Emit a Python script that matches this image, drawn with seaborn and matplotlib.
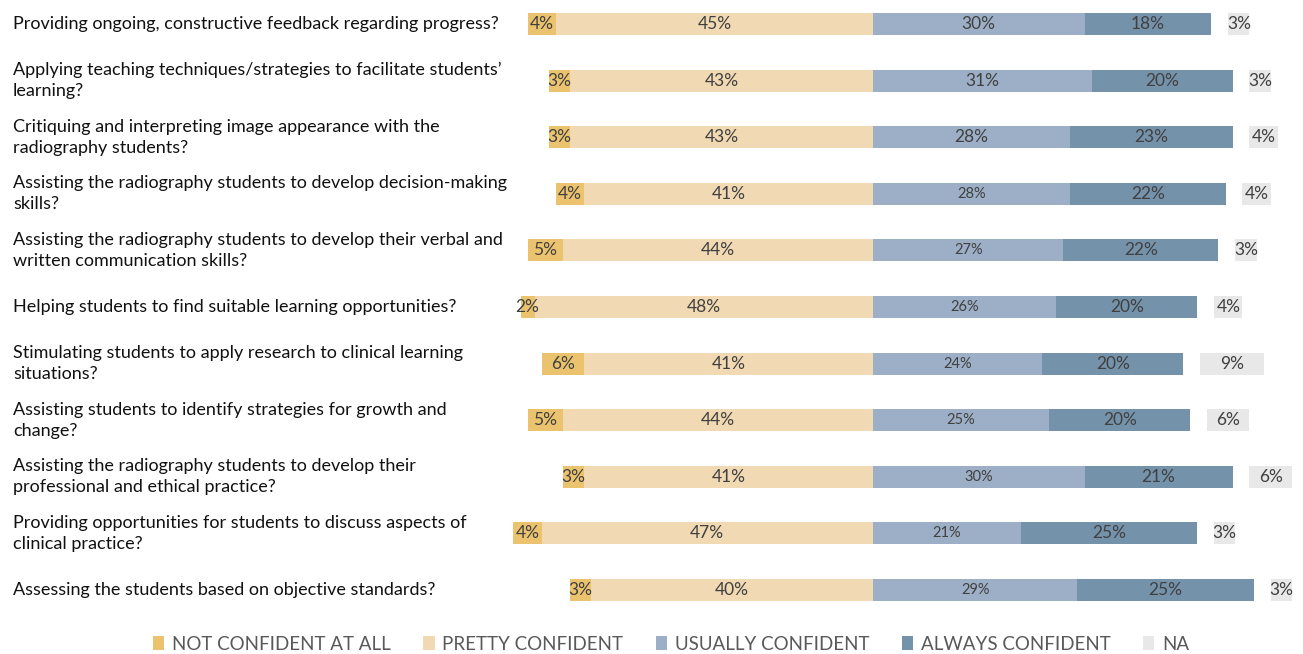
import matplotlib
matplotlib.use("Agg")
import matplotlib.pyplot as plt
from matplotlib.patches import Patch
import seaborn as sns
import pandas as pd
import numpy as np

questions = [
    "Providing ongoing, constructive feedback regarding progress?",
    "Applying teaching techniques/strategies to facilitate students\u2019\nlearning?",
    "Critiquing and interpreting image appearance with the\nradiography students?",
    "Assisting the radiography students to develop decision-making\nskills?",
    "Assisting the radiography students to develop their verbal and\nwritten communication skills?",
    "Helping students to find suitable learning opportunities?",
    "Stimulating students to apply research to clinical learning\nsituations?",
    "Assisting students to identify strategies for growth and\nchange?",
    "Assisting the radiography students to develop their\nprofessional and ethical practice?",
    "Providing opportunities for students to discuss aspects of\nclinical practice?",
    "Assessing the students based on objective standards?",
]
not_confident = [4, 3, 3, 4, 5, 2, 6, 5, 3, 4, 3]
pretty_confident = [45, 43, 43, 41, 44, 48, 41, 44, 41, 47, 40]
usually_confident = [30, 31, 28, 28, 27, 26, 24, 25, 30, 21, 29]
always_confident = [18, 20, 23, 22, 22, 20, 20, 20, 21, 25, 25]
not_applicable = [3, 3, 4, 4, 3, 4, 9, 6, 6, 3, 3]
legend_labels = ["NOT CONFIDENT AT ALL", "PRETTY CONFIDENT", "USUALLY CONFIDENT",
                 "ALWAYS CONFIDENT", "NA"]

colors = ["#EBC36E", "#F0D9B3", "#9CAFC6", "#7592AB", "#E8E8E8"]

sns.set_theme(style="white")
plt.rcParams["font.family"] = ["Lato", "DejaVu Sans"]

df = pd.DataFrame({
    "q": questions,
    "nc": not_confident,
    "pc": pretty_confident,
    "uc": usually_confident,
    "ac": always_confident,
    "na": not_applicable,
})

W, H = 1303, 654
fig = plt.figure(figsize=(W / 100, H / 100), dpi=100)
ax = fig.add_axes([0, 0, 1, 1])

px_per_pct = 7.05
center_px = 873
bar_h = 0.39
gap = 2.4

# Diverging layout: negative side layered from the outside in, positive side likewise
layers = [
    (-(df["nc"] + df["pc"]), colors[0]),
    (-df["pc"], colors[1]),
    (df["uc"] + df["ac"], colors[3]),
    (df["uc"], colors[2]),
]
for vals, col in layers:
    sns.barplot(x=vals.values, y=df["q"], orient="h", color=col, saturation=1,
                width=bar_h, ax=ax, linewidth=0)

ypos = np.arange(len(df))
ax.barh(ypos, df["na"], left=df["uc"] + df["ac"] + gap, height=bar_h,
        color=colors[4], linewidth=0)

ax.set_xlim(-center_px / px_per_pct, (W - center_px) / px_per_pct)
row0, step = 24, 56.6
ax.set_ylim((H - row0) / step, -row0 / step)
ax.set_yticks([])
ax.set_xticks([])
ax.set_ylabel("")
ax.set_xlabel("")
for s in ax.spines.values():
    s.set_visible(False)

lab_col = "#404040"
for i, r in df.iterrows():
    nc, pc, uc, ac, na = r["nc"], r["pc"], r["uc"], r["ac"], r["na"]
    ax.text(-(pc + nc / 2), i, f"{nc}%", ha="center", va="center", fontsize=12.5, color=lab_col)
    ax.text(-pc / 2, i, f"{pc}%", ha="center", va="center", fontsize=12.5, color=lab_col)
    ax.text(uc / 2, i, f"{uc}%", ha="center", va="center",
            fontsize=12.5 if i < 3 else 10.5, color=lab_col)
    ax.text(uc + ac / 2, i, f"{ac}%", ha="center", va="center", fontsize=12.5, color=lab_col)
    ax.text(uc + ac + gap + na / 2, i, f"{na}%", ha="center", va="center", fontsize=12.5, color=lab_col)
    ax.text(13 / W, i, r["q"], transform=ax.get_yaxis_transform(), ha="left", va="center",
            fontsize=13.0, color="#111111", linespacing=1.4)

handles = [Patch(facecolor=c, edgecolor="none") for c in colors]
fig.legend(handles, legend_labels, loc="center", bbox_to_anchor=(0.515, 1 - 644 / H),
           ncol=5, frameon=False, fontsize=13.5, handlelength=0.6, handleheight=0.8,
           handletextpad=0.4, columnspacing=1.75, labelcolor="#595959")

fig.savefig("out.png", dpi=100)
